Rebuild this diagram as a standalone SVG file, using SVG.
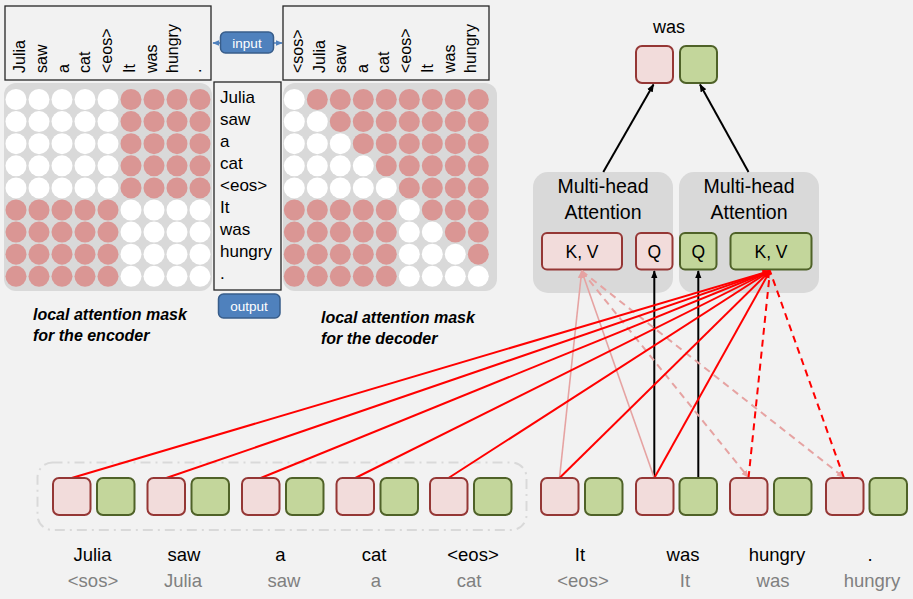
<svg xmlns="http://www.w3.org/2000/svg" width="913" height="599" viewBox="0 0 913 599">
<defs>
<style>
text{font-family:"Liberation Sans","Open Sans",Arial,sans-serif;fill:#000}
.w{fill:#fff}.r{fill:#DA9694}
.mat{fill:#D9D9D9}
.lab{font-size:16px}
.box{fill:none;stroke:#262626;stroke-width:1.3}
.cap{font-size:16px;font-weight:bold;font-style:italic}
.pk{fill:#F2DCDB;stroke:#953735;stroke-width:2}
.gr{fill:#C3D69B;stroke:#4F6228;stroke-width:2}
.mha{fill:#D9D9D9}
.mt{font-size:19.5px;text-anchor:middle}
.kv{font-size:17.5px;text-anchor:middle}
.tk{font-size:18.5px;text-anchor:middle}
.tg{font-size:18.5px;text-anchor:middle;fill:#808080}
.btn{fill:#4F81BD;stroke:#385D8A;stroke-width:1.5}
.bt{fill:#fff;font-size:13.5px;text-anchor:middle}
.red{stroke:#FF0000;stroke-width:2;fill:none}
.redd{stroke:#FF0000;stroke-width:2;fill:none;stroke-dasharray:7,5}
.lp{stroke:#E6A3A2;stroke-width:1.6;fill:none}
.lpd{stroke:#E6A3A2;stroke-width:2;fill:none;stroke-dasharray:7,5}
.blk{stroke:#000;stroke-width:2;fill:none}
</style>
<marker id="ab" viewBox="0 0 10 10" refX="9" refY="5" markerWidth="8" markerHeight="8" markerUnits="userSpaceOnUse" orient="auto"><path d="M0,1 L10,5 L0,9 z" fill="#000"/></marker>
<marker id="ar" viewBox="0 0 10 10" refX="9" refY="5" markerWidth="8" markerHeight="8" markerUnits="userSpaceOnUse" orient="auto"><path d="M0,1 L10,5 L0,9 z" fill="#FF0000"/></marker>
<marker id="ap" viewBox="0 0 10 10" refX="9" refY="5" markerWidth="8" markerHeight="8" markerUnits="userSpaceOnUse" orient="auto"><path d="M0,1 L10,5 L0,9 z" fill="#E6A3A2"/></marker>
<marker id="abl" viewBox="0 0 10 10" refX="9" refY="5" markerWidth="7" markerHeight="7" markerUnits="userSpaceOnUse" orient="auto"><path d="M0,1 L10,5 L0,9 z" fill="#4F81BD"/></marker>
</defs>
<rect width="913" height="599" fill="#F2F2F2"/>

<!-- Encoder mask -->
<g id="encoder-mask">
<rect class="box" x="5" y="6" width="206" height="74"/>
<g class="lab">
<text transform="translate(25,73) rotate(-90)">Julia</text>
<text transform="translate(47,73) rotate(-90)">saw</text>
<text transform="translate(69,73) rotate(-90)">a</text>
<text transform="translate(90,73) rotate(-90)">cat</text>
<text transform="translate(112,73) rotate(-90)">&lt;eos&gt;</text>
<text transform="translate(135,73) rotate(-90)">It</text>
<text transform="translate(157,73) rotate(-90)">was</text>
<text transform="translate(178,73) rotate(-90)">hungry</text>
<text transform="translate(201,73) rotate(-90)">.</text>
</g>
<rect class="mat" x="4" y="83" width="208" height="208" rx="12"/>
<g id="enc-rows">
<g transform="translate(0,99.5)"><circle class="w" cx="16" r="10.5"/><circle class="w" cx="39" r="10.5"/><circle class="w" cx="62" r="10.5"/><circle class="w" cx="85" r="10.5"/><circle class="w" cx="108" r="10.5"/><circle class="r" cx="131" r="10.5"/><circle class="r" cx="154" r="10.5"/><circle class="r" cx="177" r="10.5"/><circle class="r" cx="200" r="10.5"/></g>
<g transform="translate(0,121.6)"><circle class="w" cx="16" r="10.5"/><circle class="w" cx="39" r="10.5"/><circle class="w" cx="62" r="10.5"/><circle class="w" cx="85" r="10.5"/><circle class="w" cx="108" r="10.5"/><circle class="r" cx="131" r="10.5"/><circle class="r" cx="154" r="10.5"/><circle class="r" cx="177" r="10.5"/><circle class="r" cx="200" r="10.5"/></g>
<g transform="translate(0,143.7)"><circle class="w" cx="16" r="10.5"/><circle class="w" cx="39" r="10.5"/><circle class="w" cx="62" r="10.5"/><circle class="w" cx="85" r="10.5"/><circle class="w" cx="108" r="10.5"/><circle class="r" cx="131" r="10.5"/><circle class="r" cx="154" r="10.5"/><circle class="r" cx="177" r="10.5"/><circle class="r" cx="200" r="10.5"/></g>
<g transform="translate(0,165.8)"><circle class="w" cx="16" r="10.5"/><circle class="w" cx="39" r="10.5"/><circle class="w" cx="62" r="10.5"/><circle class="w" cx="85" r="10.5"/><circle class="w" cx="108" r="10.5"/><circle class="r" cx="131" r="10.5"/><circle class="r" cx="154" r="10.5"/><circle class="r" cx="177" r="10.5"/><circle class="r" cx="200" r="10.5"/></g>
<g transform="translate(0,187.9)"><circle class="w" cx="16" r="10.5"/><circle class="w" cx="39" r="10.5"/><circle class="w" cx="62" r="10.5"/><circle class="w" cx="85" r="10.5"/><circle class="w" cx="108" r="10.5"/><circle class="r" cx="131" r="10.5"/><circle class="r" cx="154" r="10.5"/><circle class="r" cx="177" r="10.5"/><circle class="r" cx="200" r="10.5"/></g>
<g transform="translate(0,210)"><circle class="r" cx="16" r="10.5"/><circle class="r" cx="39" r="10.5"/><circle class="r" cx="62" r="10.5"/><circle class="r" cx="85" r="10.5"/><circle class="r" cx="108" r="10.5"/><circle class="w" cx="131" r="10.5"/><circle class="w" cx="154" r="10.5"/><circle class="w" cx="177" r="10.5"/><circle class="w" cx="200" r="10.5"/></g>
<g transform="translate(0,232.1)"><circle class="r" cx="16" r="10.5"/><circle class="r" cx="39" r="10.5"/><circle class="r" cx="62" r="10.5"/><circle class="r" cx="85" r="10.5"/><circle class="r" cx="108" r="10.5"/><circle class="w" cx="131" r="10.5"/><circle class="w" cx="154" r="10.5"/><circle class="w" cx="177" r="10.5"/><circle class="w" cx="200" r="10.5"/></g>
<g transform="translate(0,254.2)"><circle class="r" cx="16" r="10.5"/><circle class="r" cx="39" r="10.5"/><circle class="r" cx="62" r="10.5"/><circle class="r" cx="85" r="10.5"/><circle class="r" cx="108" r="10.5"/><circle class="w" cx="131" r="10.5"/><circle class="w" cx="154" r="10.5"/><circle class="w" cx="177" r="10.5"/><circle class="w" cx="200" r="10.5"/></g>
<g transform="translate(0,276.3)"><circle class="r" cx="16" r="10.5"/><circle class="r" cx="39" r="10.5"/><circle class="r" cx="62" r="10.5"/><circle class="r" cx="85" r="10.5"/><circle class="r" cx="108" r="10.5"/><circle class="w" cx="131" r="10.5"/><circle class="w" cx="154" r="10.5"/><circle class="w" cx="177" r="10.5"/><circle class="w" cx="200" r="10.5"/></g>
</g>
<text class="cap" x="33" y="320">local attention mask</text>
<text class="cap" x="33" y="341">for the encoder</text>
</g>

<!-- middle word list and buttons -->
<g id="word-list">
<rect class="box" x="214" y="82" width="67" height="208"/>
<g style="font-size:17px">
<text x="220" y="103">Julia</text>
<text x="220" y="125">saw</text>
<text x="220" y="147">a</text>
<text x="220" y="169">cat</text>
<text x="220" y="191">&lt;eos&gt;</text>
<text x="220" y="213">It</text>
<text x="220" y="235">was</text>
<text x="220" y="257">hungry</text>
<text x="220" y="279">.</text>
</g>
</g>
<g id="input-btn">
<line x1="247" y1="43" x2="213" y2="43" stroke="#4F81BD" stroke-width="1.5" marker-end="url(#abl)"/>
<line x1="247" y1="43" x2="282" y2="43" stroke="#4F81BD" stroke-width="1.5" marker-end="url(#abl)"/>
<rect class="btn" x="220.5" y="32" width="53" height="21" rx="5"/>
<text class="bt" x="247" y="47.5">input</text>
</g>
<g id="output-btn">
<rect class="btn" x="218.5" y="294" width="61.5" height="24" rx="5"/>
<text class="bt" x="249" y="310.5">output</text>
</g>

<!-- Decoder mask -->
<g id="decoder-mask">
<rect class="box" x="283" y="6" width="206" height="74"/>
<g class="lab">
<text transform="translate(303,73) rotate(-90)">&lt;sos&gt;</text>
<text transform="translate(325,73) rotate(-90)">Julia</text>
<text transform="translate(346,73) rotate(-90)">saw</text>
<text transform="translate(368,73) rotate(-90)">a</text>
<text transform="translate(389,73) rotate(-90)">cat</text>
<text transform="translate(411,73) rotate(-90)">&lt;eos&gt;</text>
<text transform="translate(433,73) rotate(-90)">It</text>
<text transform="translate(455,73) rotate(-90)">was</text>
<text transform="translate(476,73) rotate(-90)">hungry</text>
</g>
<rect class="mat" x="283" y="83" width="214" height="208" rx="12"/>
<g id="dec-rows" transform="translate(278.3,0)">
<g transform="translate(0,99.5)"><circle class="w" cx="16" r="10.5"/><circle class="r" cx="39" r="10.5"/><circle class="r" cx="62" r="10.5"/><circle class="r" cx="85" r="10.5"/><circle class="r" cx="108" r="10.5"/><circle class="r" cx="131" r="10.5"/><circle class="r" cx="154" r="10.5"/><circle class="r" cx="177" r="10.5"/><circle class="r" cx="200" r="10.5"/></g>
<g transform="translate(0,121.6)"><circle class="w" cx="16" r="10.5"/><circle class="w" cx="39" r="10.5"/><circle class="r" cx="62" r="10.5"/><circle class="r" cx="85" r="10.5"/><circle class="r" cx="108" r="10.5"/><circle class="r" cx="131" r="10.5"/><circle class="r" cx="154" r="10.5"/><circle class="r" cx="177" r="10.5"/><circle class="r" cx="200" r="10.5"/></g>
<g transform="translate(0,143.7)"><circle class="w" cx="16" r="10.5"/><circle class="w" cx="39" r="10.5"/><circle class="w" cx="62" r="10.5"/><circle class="r" cx="85" r="10.5"/><circle class="r" cx="108" r="10.5"/><circle class="r" cx="131" r="10.5"/><circle class="r" cx="154" r="10.5"/><circle class="r" cx="177" r="10.5"/><circle class="r" cx="200" r="10.5"/></g>
<g transform="translate(0,165.8)"><circle class="w" cx="16" r="10.5"/><circle class="w" cx="39" r="10.5"/><circle class="w" cx="62" r="10.5"/><circle class="w" cx="85" r="10.5"/><circle class="r" cx="108" r="10.5"/><circle class="r" cx="131" r="10.5"/><circle class="r" cx="154" r="10.5"/><circle class="r" cx="177" r="10.5"/><circle class="r" cx="200" r="10.5"/></g>
<g transform="translate(0,187.9)"><circle class="w" cx="16" r="10.5"/><circle class="w" cx="39" r="10.5"/><circle class="w" cx="62" r="10.5"/><circle class="w" cx="85" r="10.5"/><circle class="w" cx="108" r="10.5"/><circle class="r" cx="131" r="10.5"/><circle class="r" cx="154" r="10.5"/><circle class="r" cx="177" r="10.5"/><circle class="r" cx="200" r="10.5"/></g>
<g transform="translate(0,210)"><circle class="r" cx="16" r="10.5"/><circle class="r" cx="39" r="10.5"/><circle class="r" cx="62" r="10.5"/><circle class="r" cx="85" r="10.5"/><circle class="r" cx="108" r="10.5"/><circle class="w" cx="131" r="10.5"/><circle class="r" cx="154" r="10.5"/><circle class="r" cx="177" r="10.5"/><circle class="r" cx="200" r="10.5"/></g>
<g transform="translate(0,232.1)"><circle class="r" cx="16" r="10.5"/><circle class="r" cx="39" r="10.5"/><circle class="r" cx="62" r="10.5"/><circle class="r" cx="85" r="10.5"/><circle class="r" cx="108" r="10.5"/><circle class="w" cx="131" r="10.5"/><circle class="w" cx="154" r="10.5"/><circle class="r" cx="177" r="10.5"/><circle class="r" cx="200" r="10.5"/></g>
<g transform="translate(0,254.2)"><circle class="r" cx="16" r="10.5"/><circle class="r" cx="39" r="10.5"/><circle class="r" cx="62" r="10.5"/><circle class="r" cx="85" r="10.5"/><circle class="r" cx="108" r="10.5"/><circle class="w" cx="131" r="10.5"/><circle class="w" cx="154" r="10.5"/><circle class="w" cx="177" r="10.5"/><circle class="r" cx="200" r="10.5"/></g>
<g transform="translate(0,276.3)"><circle class="r" cx="16" r="10.5"/><circle class="r" cx="39" r="10.5"/><circle class="r" cx="62" r="10.5"/><circle class="r" cx="85" r="10.5"/><circle class="r" cx="108" r="10.5"/><circle class="w" cx="131" r="10.5"/><circle class="w" cx="154" r="10.5"/><circle class="w" cx="177" r="10.5"/><circle class="w" cx="200" r="10.5"/></g>
</g>
<text class="cap" x="321" y="323">local attention mask</text>
<text class="cap" x="321" y="344">for the decoder</text>
</g>

<!-- Output token -->
<g id="out-was">
<text x="669" y="33" style="font-size:18px;text-anchor:middle">was</text>
<rect class="pk" x="636" y="46" width="37" height="37" rx="6"/>
<rect class="gr" x="680" y="46" width="37" height="37" rx="6"/>
</g>

<!-- Attention blocks -->
<g id="mha-left">
<rect class="mha" x="533" y="172" width="140" height="121" rx="15"/>
<text class="mt" x="603" y="193">Multi-head</text>
<text class="mt" x="603" y="218.5">Attention</text>
<rect class="pk" x="542" y="233" width="80" height="36.5" rx="5"/>
<text class="kv" x="582" y="258">K, V</text>
<rect class="pk" x="636" y="233" width="36.5" height="36.5" rx="5"/>
<text class="kv" x="654.3" y="258">Q</text>
</g>
<g id="mha-right">
<rect class="mha" x="679" y="172" width="140" height="121" rx="15"/>
<text class="mt" x="749" y="193">Multi-head</text>
<text class="mt" x="749" y="218.5">Attention</text>
<rect class="gr" x="680" y="233" width="36.5" height="36.5" rx="5"/>
<text class="kv" x="698.3" y="258">Q</text>
<rect class="gr" x="730.5" y="233" width="81" height="36.5" rx="5"/>
<text class="kv" x="771" y="258">K, V</text>
</g>

<!-- encoder context frame -->
<rect id="enc-frame" x="37.5" y="462.5" width="489" height="67.5" rx="15" fill="none" stroke="#D9D9D9" stroke-width="2" stroke-dasharray="10,5,2,5"/>

<!-- Connectors -->
<g id="connectors">
<line class="blk" x1="603.3" y1="172" x2="653.5" y2="84.5" marker-end="url(#ab)"/>
<line class="blk" x1="748.5" y1="172" x2="700" y2="84.5" marker-end="url(#ab)"/>
<line class="blk" x1="654.3" y1="478" x2="654.3" y2="271" marker-end="url(#ab)"/>
<line class="blk" x1="698.3" y1="478" x2="698.3" y2="271" marker-end="url(#ab)"/>
<line class="lp" x1="559.5" y1="478" x2="581.7" y2="271" marker-end="url(#ap)"/>
<line class="lp" x1="654.3" y1="478" x2="581.7" y2="271" marker-end="url(#ap)"/>
<line class="lpd" x1="581.7" y1="271" x2="748.5" y2="477.5" marker-end="url(#ap)"/>
<line class="lpd" x1="581.7" y1="271" x2="844" y2="477.5" marker-end="url(#ap)"/>
<line class="red" x1="71.7" y1="478" x2="770" y2="271" marker-end="url(#ar)"/>
<line class="red" x1="166.3" y1="478" x2="770" y2="271" marker-end="url(#ar)"/>
<line class="red" x1="260.8" y1="478" x2="770" y2="271" marker-end="url(#ar)"/>
<line class="red" x1="355.3" y1="478" x2="770" y2="271" marker-end="url(#ar)"/>
<line class="red" x1="448.5" y1="478" x2="770" y2="271" marker-end="url(#ar)"/>
<line class="red" x1="559.5" y1="478" x2="770" y2="271" marker-end="url(#ar)"/>
<line class="red" x1="654.3" y1="478" x2="770" y2="271" marker-end="url(#ar)"/>
<line class="redd" x1="748.5" y1="478" x2="770" y2="271"/>
<line class="redd" x1="844" y1="478" x2="770" y2="271"/>
</g>

<!-- Token nodes -->
<g id="tok-julia"><rect class="pk" x="53" y="478" width="37.5" height="37" rx="6"/><rect class="gr" x="97" y="478" width="37.5" height="37" rx="6"/><text class="tk" x="92.5" y="561">Julia</text><text class="tg" x="93" y="587">&lt;sos&gt;</text></g>
<g id="tok-saw"><rect class="pk" x="147.5" y="478" width="37.5" height="37" rx="6"/><rect class="gr" x="191.5" y="478" width="37.5" height="37" rx="6"/><text class="tk" x="184" y="561">saw</text><text class="tg" x="183" y="587">Julia</text></g>
<g id="tok-a"><rect class="pk" x="242" y="478" width="37.5" height="37" rx="6"/><rect class="gr" x="286" y="478" width="37.5" height="37" rx="6"/><text class="tk" x="280.5" y="561">a</text><text class="tg" x="284" y="587">saw</text></g>
<g id="tok-cat"><rect class="pk" x="336.5" y="478" width="37.5" height="37" rx="6"/><rect class="gr" x="380.5" y="478" width="37.5" height="37" rx="6"/><text class="tk" x="374" y="561">cat</text><text class="tg" x="376" y="587">a</text></g>
<g id="tok-eos"><rect class="pk" x="430" y="478" width="37.5" height="37" rx="6"/><rect class="gr" x="474" y="478" width="37.5" height="37" rx="6"/><text class="tk" x="473" y="561">&lt;eos&gt;</text><text class="tg" x="469" y="587">cat</text></g>
<g id="tok-it"><rect class="pk" x="541" y="478" width="37.5" height="37" rx="6"/><rect class="gr" x="585" y="478" width="37.5" height="37" rx="6"/><text class="tk" x="580" y="561">It</text><text class="tg" x="583" y="587">&lt;eos&gt;</text></g>
<g id="tok-was"><rect class="pk" x="636" y="478" width="37.5" height="37" rx="6"/><rect class="gr" x="679.5" y="478" width="37.5" height="37" rx="6"/><text class="tk" x="683" y="561">was</text><text class="tg" x="685" y="587">It</text></g>
<g id="tok-hungry"><rect class="pk" x="730" y="478" width="37.5" height="37" rx="6"/><rect class="gr" x="774" y="478" width="37.5" height="37" rx="6"/><text class="tk" x="777" y="561">hungry</text><text class="tg" x="773" y="587">was</text></g>
<g id="tok-dot"><rect class="pk" x="826" y="478" width="37.5" height="37" rx="6"/><rect class="gr" x="869.5" y="478" width="37.5" height="37" rx="6"/><text class="tk" x="870" y="561">.</text><text class="tg" x="872" y="587">hungry</text></g>
</svg>
